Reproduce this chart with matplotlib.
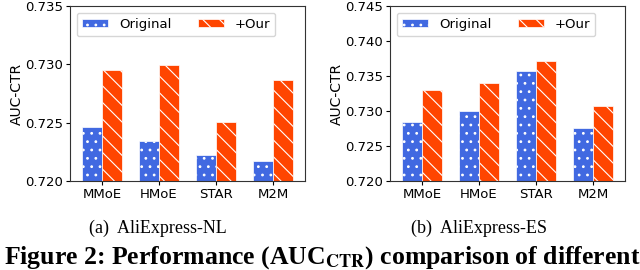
import matplotlib
matplotlib.use("Agg")
import matplotlib.pyplot as plt
import numpy as np

models = ["MMoE", "HMoE", "STAR", "M2M"]

# AliExpress-NL
nl_original = [0.7246, 0.72345, 0.72223, 0.72171]
nl_ours = [0.72951, 0.72994, 0.72508, 0.72866]
nl_yticks = [0.720, 0.725, 0.730, 0.735]

# AliExpress-ES
es_original = [0.72838, 0.7300, 0.73571, 0.72753]
es_ours = [0.7330, 0.7340, 0.7371, 0.73071]
es_yticks = [0.720, 0.725, 0.730, 0.735, 0.740, 0.745]

captions = ["(a)  AliExpress-NL", "(b)  AliExpress-ES"]

plt.rcParams["hatch.linewidth"] = 0.8
plt.rcParams["mathtext.fontset"] = "stix"

BLUE = "#4169E1"
RED = "#FF4500"


def draw_panel(ax, original, ours, yticks):
    x = np.arange(len(models))
    w = 0.35
    ax.bar(x - w / 2, np.array(original) - yticks[0], w, bottom=yticks[0],
           color=BLUE, edgecolor="white", hatch="..", lw=0.5, label="Original")
    ax.bar(x + w / 2, np.array(ours) - yticks[0], w, bottom=yticks[0],
           color=RED, edgecolor="white", hatch="\\\\", lw=0.5, label="+Our")
    ax.set_xticks(x)
    ax.set_xticklabels(models, fontsize=9.5)
    ax.set_xlim(-0.56, 3.56)
    ax.set_ylim(yticks[0], yticks[-1])
    ax.set_yticks(yticks)
    ax.set_yticklabels([f"{t:.3f}" for t in yticks], fontsize=9.5)
    ax.set_ylabel("AUC-CTR", fontsize=10)
    ax.tick_params(length=3, pad=2)
    ax.yaxis.set_label_coords(-0.195, 0.5)
    for s in ax.spines.values():
        s.set_color("#333333")
    ax.legend(loc="upper left", ncol=2, fontsize=9.5, handlelength=2.0,
              handleheight=0.5, columnspacing=2.0)


fig = plt.figure(figsize=(6.4, 2.7), dpi=100)
ax1 = fig.add_axes([70 / 640, 1 - 181 / 270, 235 / 640, 175 / 270])
ax2 = fig.add_axes([390 / 640, 1 - 181 / 270, 235 / 640, 175 / 270])

draw_panel(ax1, nl_original, nl_ours, nl_yticks)
draw_panel(ax2, es_original, es_ours, es_yticks)

fig.text(158 / 640, 1 - 228 / 270, captions[0], ha="center", va="center",
         family="Liberation Serif", fontsize=13)
fig.text(479 / 640, 1 - 228 / 270, captions[1], ha="center", va="center",
         family="Liberation Serif", fontsize=13)
fig.text(4 / 640, 1 - 264 / 270,
         r"Figure 2: Performance (AUC$_{\mathbf{CTR}}$) comparison of different",
         ha="left", va="baseline", family="Liberation Serif",
         fontweight="bold", fontsize=18.5)

fig.savefig("out.png", dpi=100)
